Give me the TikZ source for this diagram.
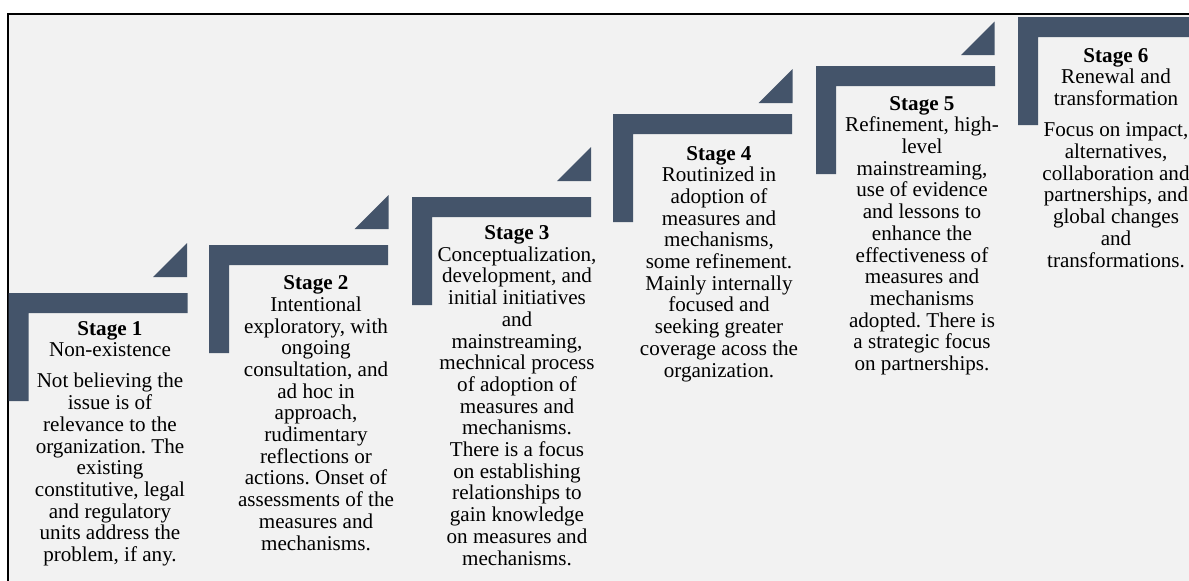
\documentclass[tikz,border=0pt]{standalone}
\usepackage{fontspec}
\setmainfont{Liberation Serif}
\frenchspacing
\definecolor{barcol}{RGB}{68,84,106}
\definecolor{panelbg}{RGB}{242,242,242}
\tikzset{
  stagebar/.style={fill=barcol, draw=none},
  stagetxt/.style={anchor=base, align=center, inner sep=0pt, font=\fontsize{21.1}{21.7}\selectfont},
  frameline/.style={draw=black, line width=1.6pt, fill=panelbg}
}
\newcommand{\stageL}[2]{% left x, top y
  \fill[stagebar] (#1,#2) -- ++(179,0) -- ++(0,20) -- ++(-159,0) -- ++(0,88) -- ++(-20,0) -- cycle;}
\newcommand{\stageTri}[3]{% right x, bottom y, size
  \fill[stagebar] (#1,#2) -- ++(-#3,0) -- ++(#3,-#3) -- cycle;}
\begin{document}
\begin{tikzpicture}[x=1pt,y=-1pt]
\useasboundingbox (0,0) rectangle (1189,581);
\clip (0,0) rectangle (1189,581);
\draw[frameline] (7.8,14) rectangle (1210,600);
% stage brackets
\stageL{8.5}{293}
\stageTri{187}{277}{34}
\stageL{209}{245}
\stageTri{388.5}{229}{34}
\stageL{412}{197}
\stageTri{591}{181}{34}
\stageL{613}{114}
\stageTri{792.5}{103}{34}
\stageL{816}{66}
\stageTri{994.5}{55}{33.5}
\stageL{1018}{17}
% texts (anchor base = baseline of last line)
\node[stagetxt] (s1) at (110,561.5) {\textbf{Stage 1}\\Non-existence\\[9.5pt]Not believing the\\issue is of\\relevance to the\\organization. The\\existing\\constitutive, legal\\and regulatory\\units address the\\problem, if any.};
\node[stagetxt] (s2) at (316,550) {\textbf{Stage 2}\\Intentional\\exploratory, with\\ongoing\\consultation, and\\ad hoc in\\approach,\\rudimentary\\reflections or\\actions. Onset of\\assessments of the\\measures and\\mechanisms.};
\node[stagetxt] (s3) at (517,565) {\textbf{Stage 3}\\Conceptualization,\\development, and\\initial initiatives\\and\\mainstreaming,\\mechnical process\\of adoption of\\measures and\\mechanisms.\\There is a focus\\on establishing\\relationships to\\gain knowledge\\on measures and\\mechanisms.};
\node[stagetxt] (s4) at (719,377) {\textbf{Stage 4}\\Routinized in\\adoption of\\measures and\\mechanisms,\\some refinement.\\Mainly internally\\focused and\\seeking greater\\coverage acoss the\\organization.};
\node[stagetxt] (s5) at (922,370.5) {\textbf{Stage 5}\\Refinement, high-\\level\\mainstreaming,\\use of evidence\\and lessons to\\enhance the\\effectiveness of\\measures and\\mechanisms\\adopted. There is\\a strategic focus\\on partnerships.};
\node[stagetxt] (s6) at (1116,267) {\textbf{Stage 6}\\Renewal and\\transformation\\[9.5pt]Focus on impact,\\alternatives,\\collaboration and\\partnerships, and\\global changes\\and\\transformations.};
\end{tikzpicture}
\end{document}
